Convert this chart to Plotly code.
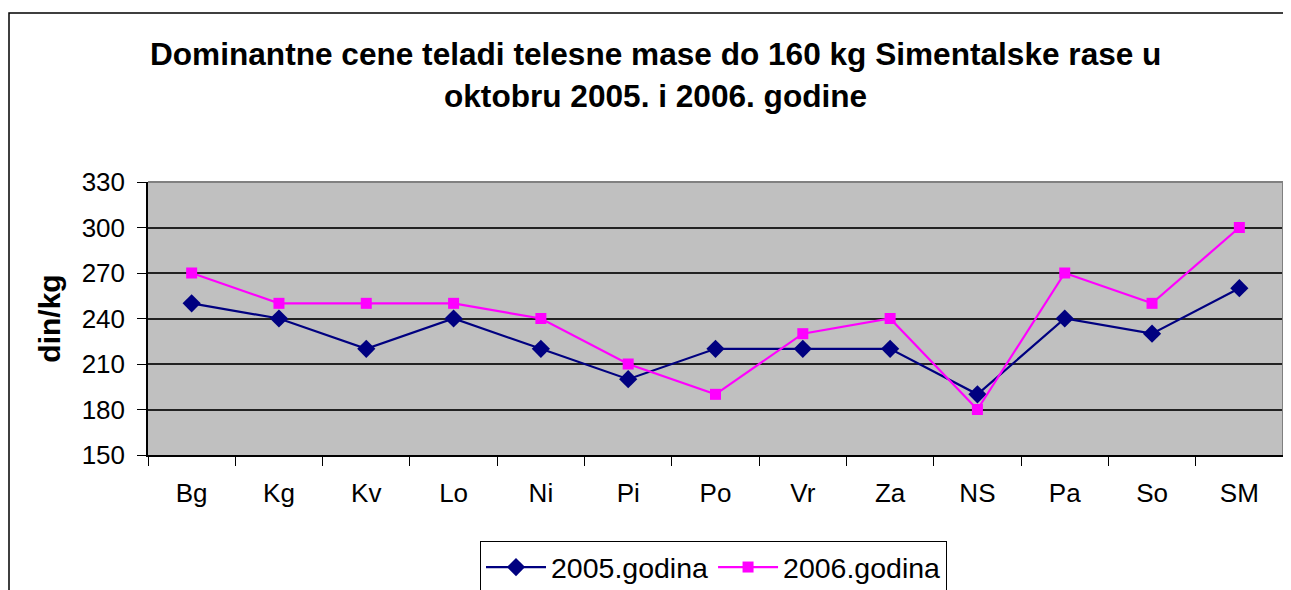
import plotly.graph_objects as go

categories = ["Bg", "Kg", "Kv", "Lo", "Ni", "Pi", "Po", "Vr", "Za", "NS", "Pa", "So", "SM"]
values_2005 = [250, 240, 220, 240, 220, 200, 220, 220, 220, 190, 240, 230, 260]
values_2006 = [270, 250, 250, 250, 240, 210, 190, 230, 240, 180, 270, 250, 300]
y_ticks = [150, 180, 210, 240, 270, 300, 330]
title_lines = ["Dominantne cene teladi telesne mase do 160 kg Simentalske rase u",
               "oktobru 2005. i 2006. godine"]

OFF = 8  # default page body margin
W, H = 1291 - OFF, 590 - OFF
L, R, T, B = 148, 1283, 182, 455  # plot area in page pixels

def px(x):
    return (x - L) / (R - L)

def py(y):
    return (B - y) / (B - T)

fig = go.Figure()
fig.add_trace(go.Scatter(
    x=categories, y=values_2005, name="2005.godina", mode="lines+markers",
    line=dict(color="#000080", width=2.2),
    marker=dict(symbol="diamond", size=14, color="#000080"),
))
fig.add_trace(go.Scatter(
    x=categories, y=values_2006, name="2006.godina", mode="lines+markers",
    line=dict(color="#FF00FF", width=2.2),
    marker=dict(symbol="square", size=11, color="#FF00FF"),
))

font = "Liberation Sans, Arial, sans-serif"
fig.update_layout(
    width=W, height=H,
    margin=dict(l=L - OFF, r=W - (R - OFF), t=T - OFF, b=H - (B - OFF), autoexpand=False),
    paper_bgcolor="white", plot_bgcolor="#C0C0C0",
    font=dict(family=font, size=26, color="black"),
    showlegend=True,
    legend=dict(orientation="h", x=px(480), xanchor="left", y=py(541), yanchor="top",
                bordercolor="black", borderwidth=1, bgcolor="white",
                font=dict(size=28.5), tracegroupgap=0, itemwidth=60),
    xaxis=dict(type="category", showline=True, linecolor="black", linewidth=1.5,
               ticks="outside", tickson="boundaries", ticklen=9, tickcolor="black",
               ticklabelstandoff=14,
               showgrid=False, tickfont=dict(size=26), range=[-0.5, 12.5]),
    yaxis=dict(range=[150, 330], tickvals=y_ticks, showline=True, linecolor="black",
               linewidth=1.5, ticks="outside", ticklen=9, tickcolor="black",
               ticklabelstandoff=7,
               showgrid=True, gridcolor="#222222", gridwidth=1.5, zeroline=False,
               tickfont=dict(size=26),
               title=dict(text="<b>din/kg</b>", font=dict(size=30), standoff=12)),
    shapes=[
        dict(type="line", xref="paper", yref="paper", x0=0, x1=1, y0=1, y1=1,
             line=dict(color="#808080", width=2)),
        dict(type="line", xref="paper", yref="paper", x0=1, x1=1, y0=0, y1=1,
             line=dict(color="#808080", width=2)),
        dict(type="rect", xref="paper", yref="paper", x0=px(9), x1=px(1300), y0=py(600), y1=py(13),
             line=dict(color="black", width=1.5), fillcolor="rgba(0,0,0,0)", layer="below"),
    ],
    annotations=[
        dict(text="<b>%s</b>" % title_lines[0], xref="paper", yref="paper", x=px(655), y=py(54),
             xanchor="center", yanchor="middle", showarrow=False, font=dict(size=31.6)),
        dict(text="<b>%s</b>" % title_lines[1], xref="paper", yref="paper", x=px(655), y=py(96),
             xanchor="center", yanchor="middle", showarrow=False, font=dict(size=31.6)),
    ],
)

fig.write_html("out.html")
